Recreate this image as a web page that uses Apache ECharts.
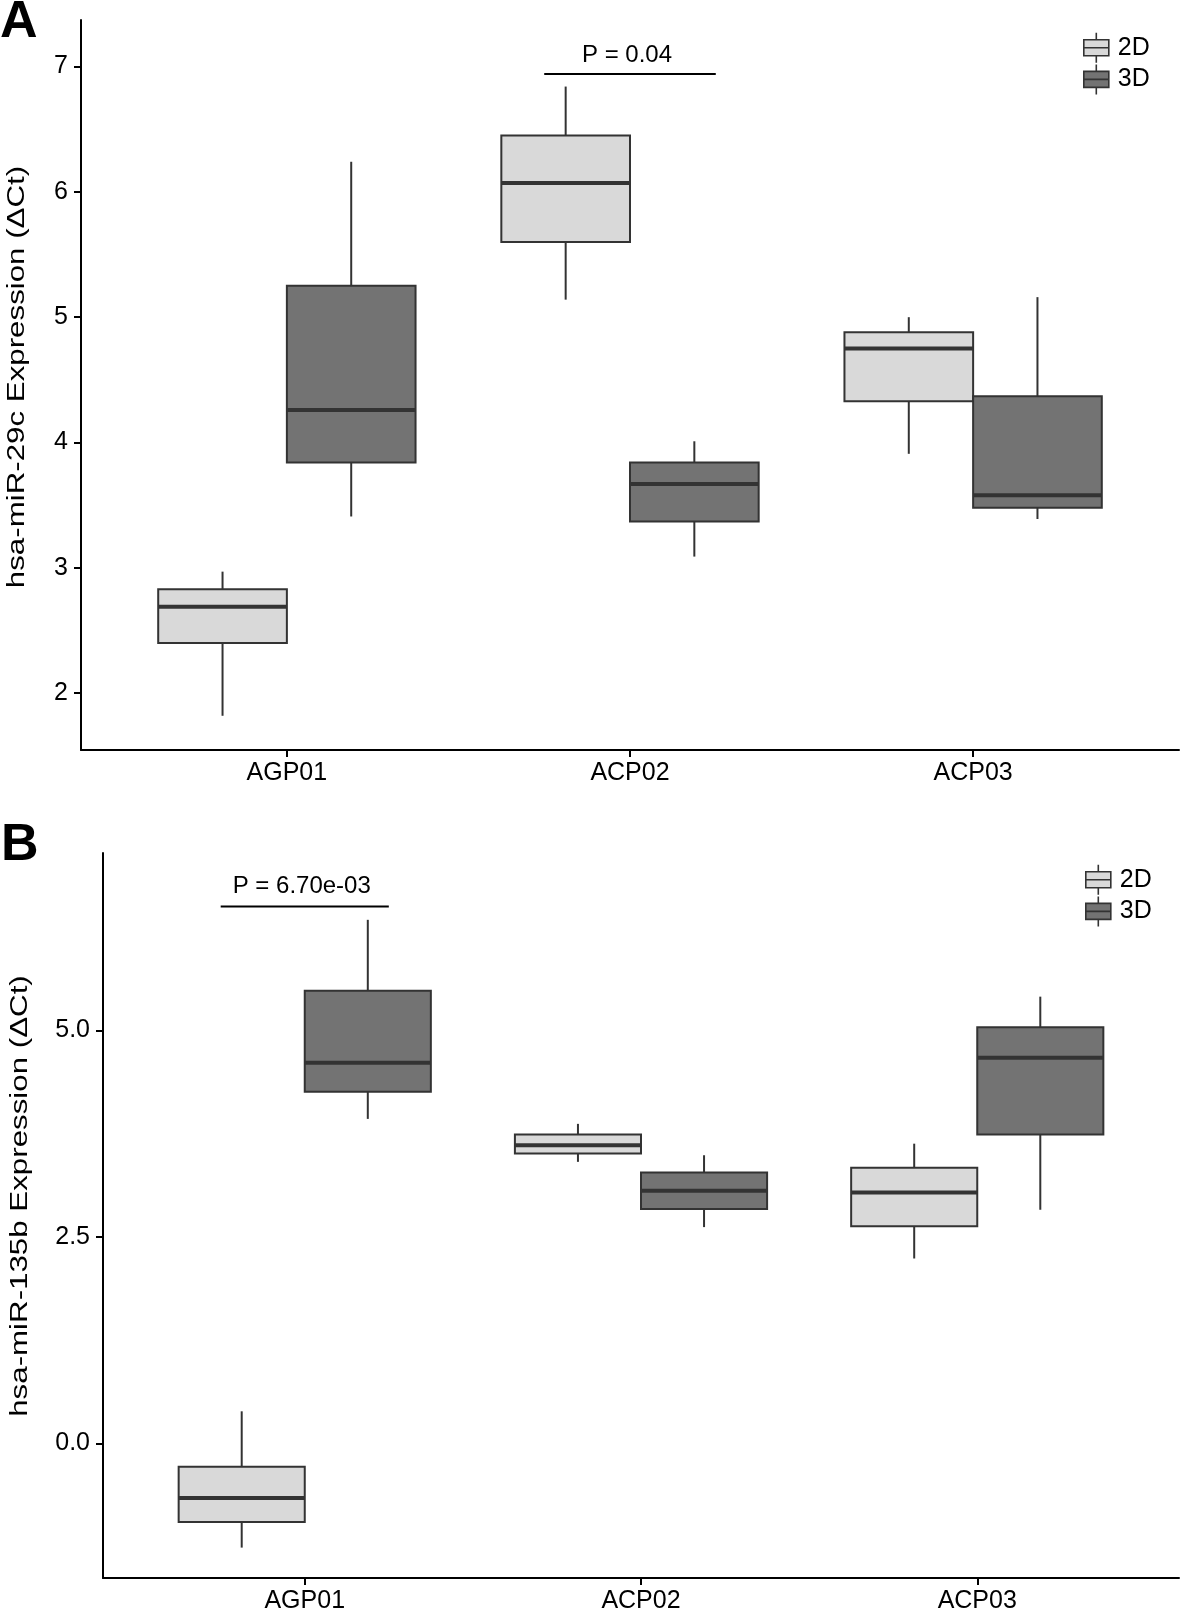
<!DOCTYPE html>
<html>
<head>
<meta charset="utf-8">
<script src="https://cdn.jsdelivr.net/npm/echarts@6/dist/echarts.min.js"></script>
<style>
html,body{margin:0;padding:0;background:#fff;}
#chart{width:1181px;height:1617px;}
</style>
</head>
<body>
<div id="chart"></div>
<script>
// ---------- DATA ----------
const categories = ['AGP01', 'ACP02', 'ACP03'];
const groups = ['2D', '3D'];
// each row: [lower whisker, Q1, median, Q3, upper whisker]
const miR29c_2D = [[1.82, 2.40, 2.69, 2.83, 2.97], [5.14, 5.60, 6.07, 6.45, 6.84], [3.91, 4.33, 4.75, 4.88, 5.00]];
const miR29c_3D = [[3.41, 3.84, 4.26, 5.25, 6.24], [3.09, 3.37, 3.67, 3.84, 4.01], [3.39, 3.48, 3.58, 4.37, 5.16]];
const miR135b_2D = [[-1.26, -0.95, -0.66, -0.28, 0.39], [3.41, 3.51, 3.61, 3.74, 3.87], [2.24, 2.63, 3.04, 3.34, 3.63]];
const miR135b_3D = [[3.93, 4.26, 4.61, 5.48, 6.34], [2.62, 2.84, 3.06, 3.28, 3.49], [2.83, 3.74, 4.67, 5.04, 5.41]];
const ticksA = [2, 3, 4, 5, 6, 7];
const ticksB = [0, 2.5, 5];
const tickLabelsB = ['0.0', '2.5', '5.0'];
const pA = { category: 2, y: 6.94, label: 'P = 0.04' };
const pB = { category: 1, y: 6.50, label: 'P = 6.70e-03' };
const titleA = 'hsa-miR-29c Expression (ΔCt)';
const titleB = 'hsa-miR-135b Expression (ΔCt)';

// ---------- STYLE ----------
const FONT = '"Liberation Sans", Arial, Helvetica, sans-serif';
const fill2D = '#d9d9d9';
const fill3D = '#737373';
const edge = '#333333';
const HALF = 0.1875;
// legend key: whisker, box, median, whisker; the lone move point reserves space before the text
const keyPath = 'path://M12.5,0L12.5,7M0,7L25,7L25,23L0,23ZM0,15L25,15M12.5,23L12.5,30M29,15';

function rows(arr) { return arr.map((r, i) => [i + 1].concat(r)); }

function boxRenderer(offset, color) {
  return function (params, api) {
    const x = api.value(0) + offset;
    const lo = api.value(1), q1 = api.value(2), med = api.value(3), q3 = api.value(4), hi = api.value(5);
    const tl = api.coord([x - HALF, q3]);
    const br = api.coord([x + HALF, q1]);
    const cHi = api.coord([x, hi]);
    const cQ3 = api.coord([x, q3]);
    const cQ1 = api.coord([x, q1]);
    const cLo = api.coord([x, lo]);
    const mL = api.coord([x - HALF, med]);
    const mR = api.coord([x + HALF, med]);
    const ls = { stroke: edge, lineWidth: 2 };
    return {
      type: 'group',
      children: [
        { type: 'line', shape: { x1: cHi[0], y1: cHi[1], x2: cQ3[0], y2: cQ3[1] }, style: ls },
        { type: 'line', shape: { x1: cQ1[0], y1: cQ1[1], x2: cLo[0], y2: cLo[1] }, style: ls },
        { type: 'rect', shape: { x: tl[0], y: tl[1], width: br[0] - tl[0], height: br[1] - tl[1] },
          style: { fill: color, stroke: edge, lineWidth: 2 } },
        { type: 'line', shape: { x1: mL[0], y1: mL[1], x2: mR[0], y2: mR[1] }, style: { stroke: edge, lineWidth: 4 } }
      ]
    };
  };
}

function makeBracket(p, xIdx, yIdx, gap) {
  return {
    type: 'custom', name: 'p', xAxisIndex: xIdx, yAxisIndex: yIdx, silent: true,
    data: [[p.category, p.y]],
    encode: { x: 0, y: 1 },
    renderItem: function (params, api) {
      const c = api.value(0), y = api.value(1);
      const a = api.coord([c - 0.25, y]);
      const b = api.coord([c + 0.25, y]);
      return {
        type: 'group',
        children: [
          { type: 'line', shape: { x1: a[0], y1: a[1], x2: b[0], y2: b[1] }, style: { stroke: '#000', lineWidth: 2 } },
          { type: 'text', style: { text: p.label, x: (a[0] + b[0]) / 2 - 3, y: a[1] - gap, align: 'center', verticalAlign: 'bottom',
            font: '24px ' + FONT, fill: '#000' } }
        ]
      };
    }
  };
}

function xAxisDef(gridIndex) {
  return {
    type: 'value', gridIndex: gridIndex, min: 0.4, max: 3.6,
    splitLine: { show: false },
    axisLine: { onZero: false, lineStyle: { color: '#000', width: 2 } },
    axisTick: { customValues: [1, 2, 3], length: 7, lineStyle: { color: '#000', width: 2 } },
    axisLabel: { customValues: [1, 2, 3], margin: 11, fontSize: 25, fontFamily: FONT, color: '#000',
      formatter: function (v) { return categories[Math.round(v) - 1]; } }
  };
}

function yAxisDef(gridIndex, min, max, ticks, fmt) {
  return {
    type: 'value', gridIndex: gridIndex, min: min, max: max,
    splitLine: { show: false },
    axisLine: { onZero: false, lineStyle: { color: '#000', width: 2 } },
    axisTick: { customValues: ticks, length: 7, lineStyle: { color: '#000', width: 2 } },
    axisLabel: { customValues: ticks, margin: 13, fontSize: 25, fontFamily: FONT, color: '#000', formatter: fmt }
  };
}

function legendDef(left, top) {
  return {
    orient: 'vertical', left: left, top: top, padding: 0, itemGap: 0,
    itemWidth: 29, itemHeight: 30, selectedMode: false,
    textStyle: { fontSize: 25, fontFamily: FONT, color: '#000' },
    data: [
      { name: '2D', icon: keyPath, itemStyle: { color: fill2D, borderColor: edge, borderWidth: 1.6 } },
      { name: '3D', icon: keyPath, itemStyle: { color: fill3D, borderColor: edge, borderWidth: 1.6 } }
    ]
  };
}

function boxSeries(name, data, offset, color, idx) {
  return {
    type: 'custom', name: name, xAxisIndex: idx, yAxisIndex: idx,
    itemStyle: { color: color, borderColor: edge, borderWidth: 1.6 },
    data: rows(data),
    encode: { x: 0, y: [1, 2, 3, 4, 5] },
    renderItem: boxRenderer(offset, color)
  };
}

const chart = echarts.init(document.getElementById('chart'), null, { renderer: 'canvas' });
chart.setOption({
  animation: false,
  backgroundColor: '#ffffff',
  grid: [
    { left: 81, top: 20, right: 2, height: 730 },
    { left: 103, top: 853, right: 2, height: 725 }
  ],
  xAxis: [xAxisDef(0), xAxisDef(1)],
  yAxis: [
    yAxisDef(0, 1.547, 7.371, ticksA, function (v) { return String(v); }),
    yAxisDef(1, -1.628, 7.149, ticksB, function (v) { return tickLabelsB[ticksB.indexOf(v)] || v.toFixed(1); })
  ],
  legend: [legendDef(1083, 32), legendDef(1085, 864)],
  graphic: [
    { type: 'text', x: 0, y: -3, style: { text: 'A', font: 'bold 52px ' + FONT, fill: '#000', align: 'left', verticalAlign: 'top' } },
    { type: 'text', x: 1, y: 820, style: { text: 'B', font: 'bold 52px ' + FONT, fill: '#000', align: 'left', verticalAlign: 'top' } },
    { type: 'text', x: 18, y: 377, rotation: Math.PI / 2, scaleX: 1.36,
      style: { text: titleA, font: '23px ' + FONT, fill: '#000', align: 'center', verticalAlign: 'middle' } },
    { type: 'text', x: 21, y: 1196, rotation: Math.PI / 2, scaleX: 1.36,
      style: { text: titleB, font: '23px ' + FONT, fill: '#000', align: 'center', verticalAlign: 'middle' } }
  ],
  series: [
    boxSeries(groups[0], miR29c_2D, -HALF, fill2D, 0),
    boxSeries(groups[1], miR29c_3D, HALF, fill3D, 0),
    boxSeries(groups[0], miR135b_2D, -HALF, fill2D, 1),
    boxSeries(groups[1], miR135b_3D, HALF, fill3D, 1),
    makeBracket(pA, 0, 0, 7),
    makeBracket(pB, 1, 1, 8)
  ]
});
</script>
</body>
</html>
